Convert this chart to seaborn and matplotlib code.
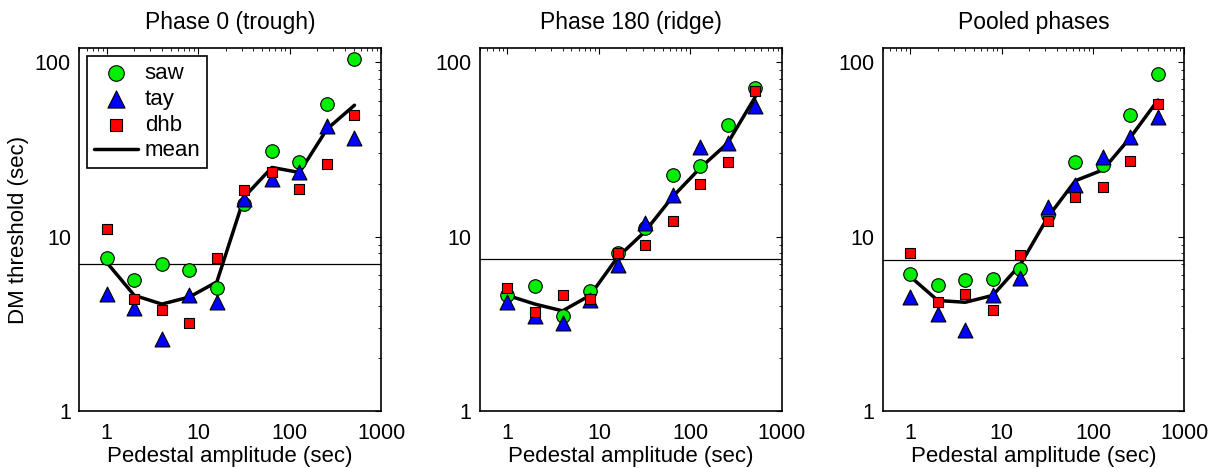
import matplotlib
matplotlib.use("Agg")
import matplotlib.pyplot as plt
import matplotlib.ticker as mticker
import seaborn as sns
import pandas as pd

sns.set_style("white")
plt.rcParams['font.family'] = ['Liberation Sans', 'DejaVu Sans']
plt.rcParams['text.color'] = 'black'
plt.rcParams['axes.labelcolor'] = 'black'
plt.rcParams['xtick.color'] = 'black'
plt.rcParams['ytick.color'] = 'black'

pedestal = [1, 2, 4, 8, 16, 32, 64, 128, 256, 512]
observers = ['saw', 'tay', 'dhb']
titles = ['Phase 0 (trough)', 'Phase 180 (ridge)', 'Pooled phases']

# phase 0
saw_0 = [7.5, 5.6, 7.0, 6.4, 5.1, 15.4, 31.0, 26.7, 57.7, 104]
tay_0 = [4.7, 3.9, 2.6, 4.6, 4.2, 16.4, 21.4, 23.6, 43.1, 36.5]
dhb_0 = [11.1, 4.4, 3.8, 3.2, 7.5, 18.4, 23.3, 18.7, 26.1, 49.6]
mean_0 = [7.1, 4.6, 4.1, 4.5, 5.5, 16.9, 24.9, 23.3, 41.3, 56.6]
# phase 180
saw_180 = [4.6, 5.2, 3.5, 4.9, 8.0, 11.2, 22.6, 25.5, 43.7, 70.9]
tay_180 = [4.2, 3.5, 3.2, 4.3, 6.9, 12.0, 17.2, 32.5, 34.5, 55.7]
dhb_180 = [5.1, 3.7, 4.6, 4.4, 8.1, 9.0, 12.3, 20.0, 26.8, 68.2]
mean_180 = [4.6, 4.1, 3.75, 4.6, 7.6, 10.7, 16.9, 24.7, 34.3, 63.0]
# pooled
saw_pool = [6.1, 5.3, 5.6, 5.7, 6.5, 13.3, 26.8, 25.8, 49.7, 86]
tay_pool = [4.5, 3.6, 2.9, 4.6, 5.8, 14.7, 19.8, 28.4, 37.1, 48.2]
dhb_pool = [8.1, 4.2, 4.7, 3.8, 7.8, 12.3, 16.9, 19.2, 27.2, 57.5]
mean_pool = [5.9, 4.3, 4.2, 4.6, 6.9, 12.9, 20.9, 24.1, 37.0, 60.6]

ref_lines = [6.94, 7.45, 7.35]

panels = [
    (saw_0, tay_0, dhb_0, mean_0),
    (saw_180, tay_180, dhb_180, mean_180),
    (saw_pool, tay_pool, dhb_pool, mean_pool),
]

colors = {'saw': '#00ee00', 'tay': '#0000ff', 'dhb': '#ff0000'}
markers = {'saw': 'o', 'tay': '^', 'dhb': 's'}
sizes = {'saw': 95, 'tay': 115, 'dhb': 62}

fig = plt.figure(figsize=(12.12, 4.68), dpi=100)
lefts = [0.0654, 0.396, 0.7283]
fs = 16

for i, (s, t, d, m) in enumerate(panels):
    ax = fig.add_axes([lefts[i], 0.1218, 0.249, 0.775])
    df = pd.DataFrame({'pedestal': pedestal * 3,
                       'threshold': s + t + d,
                       'observer': ['saw'] * 10 + ['tay'] * 10 + ['dhb'] * 10})
    ax.axhline(ref_lines[i], color='black', lw=0.9, zorder=1)
    sns.lineplot(x=pedestal, y=m, color='black', lw=2.5, ax=ax, zorder=2,
                 label='mean' if i == 0 else None)
    for obs in observers:
        sub = df[df['observer'] == obs]
        sns.scatterplot(data=sub, x='pedestal', y='threshold', color=colors[obs],
                        marker=markers[obs], s=sizes[obs], edgecolor='black',
                        linewidth=0.8, ax=ax, zorder=3,
                        label=obs if i == 0 else None)
    ax.set_xscale('log')
    ax.set_yscale('log')
    ax.set_xlim(0.5, 1000)
    ax.set_ylim(1, 120)
    ax.xaxis.set_major_formatter(mticker.FuncFormatter(lambda v, p: f'{v:g}'))
    ax.yaxis.set_major_formatter(mticker.FuncFormatter(lambda v, p: f'{v:g}'))
    ax.xaxis.set_minor_formatter(mticker.NullFormatter())
    ax.yaxis.set_minor_formatter(mticker.NullFormatter())
    ax.tick_params(which='both', direction='in', top=True, right=True, labelsize=15.5,
                   color='black', labelcolor='black')
    ax.tick_params(which='major', length=4, width=0.8)
    ax.tick_params(which='minor', length=2, width=0.6)
    ax.tick_params(axis='x', which='major', pad=9)
    ax.tick_params(axis='y', which='major', pad=6)
    for sp in ax.spines.values():
        sp.set_color('black')
        sp.set_linewidth(1.2)
    ax.set_title(titles[i], fontsize=16.5, pad=14, color='black')
    ax.set_xlabel('Pedestal amplitude (sec)', fontsize=fs, labelpad=1, color='black')
    if i == 0:
        ax.set_ylabel('DM threshold (sec)', fontsize=fs, labelpad=4, color='black')
        h, l = ax.get_legend_handles_labels()
        order = [l.index(k) for k in ['saw', 'tay', 'dhb', 'mean']]
        leg = ax.legend([h[k] for k in order], [l[k] for k in order],
                        loc='upper left', fontsize=16, frameon=True, fancybox=False,
                        edgecolor='black', framealpha=1, borderaxespad=0.35,
                        handlelength=2.0, handletextpad=0.3, labelspacing=0.22,
                        borderpad=0.3, markerscale=1.15, labelcolor='black')
        leg.get_frame().set_linewidth(1.2)
    else:
        ax.set_ylabel('')
        if ax.get_legend() is not None:
            ax.get_legend().remove()

fig.savefig('out.png', dpi=100)
